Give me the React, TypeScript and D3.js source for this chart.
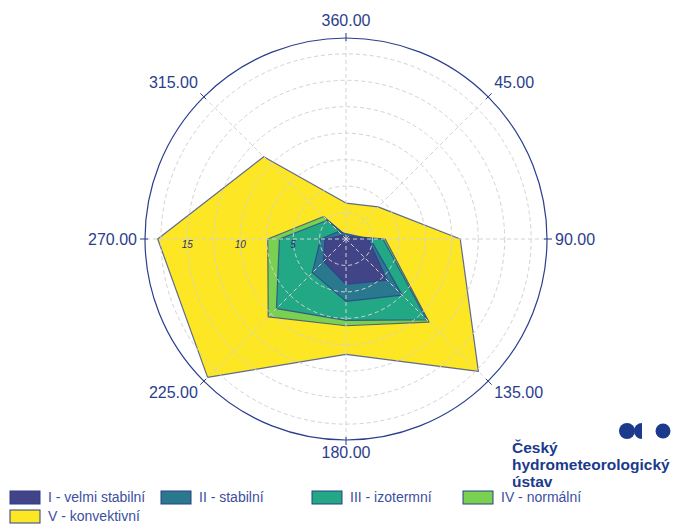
import * as React from 'react';
import { scaleLinear, lineRadial, curveLinearClosed, range } from 'd3';

// wind directions (deg) and their axis labels
const directions = [0, 45, 90, 135, 180, 225, 270, 315];
const dirLabels = ['360.00', '45.00', '90.00', '135.00', '180.00', '225.00', '270.00', '315.00'];

// frequency per stability class (%)
const classI = [0.2, 0.4, 2.1, 5.5, 4.3, 3.0, 2.0, 0.5];
const classII = [0.5, 0.6, 2.3, 7.5, 5.9, 4.5, 2.4, 1.0];
const classIII = [0.3, 0.3, 3.5, 10.8, 7.7, 9.3, 6.3, 2.5];
const classIV = [0.3, 0.4, 3.7, 11.1, 8.2, 10.4, 7.4, 3.0];
const classV = [3.4, 4.3, 10.8, 17.7, 10.9, 18.5, 17.8, 11.0];

const seriesNames = ['I - velmi stabilní', 'II - stabilní', 'III - izotermní', 'IV - normální', 'V - konvektivní'];
const seriesColors = ['#414487', '#2A788E', '#22A884', '#7AD151', '#FDE725'];
const radialTicks = [5, 10, 15];

const W = 675;
const H = 525;
const cx = 346;
const cy = 239;
const R = 201;
const axisColor = '#2B3E8C';

export default function App() {
  const r = scaleLinear().domain([0, 19]).range([0, R]);
  const rad = (deg: number) => (deg * Math.PI) / 180;

  const area = lineRadial<number>()
    .angle((d, i) => rad(directions[i]))
    .radius(d => r(d))
    .curve(curveLinearClosed);

  const all = [classI, classII, classIII, classIV, classV];
  // draw biggest first so class I ends on top
  const drawOrder = [4, 3, 2, 1, 0];

  const font = '"Liberation Sans", Arial, sans-serif';

  // label placement around the circle
  const labelPos = (deg: number) => {
    const px = cx + Math.sin(rad(deg)) * R;
    const py = cy - Math.cos(rad(deg)) * R;
    switch (deg) {
      case 0: return { x: px, y: py - 12, anchor: 'middle' };
      case 180: return { x: px, y: py + 18, anchor: 'middle' };
      case 90: return { x: px + 8, y: py + 6, anchor: 'start' };
      case 270: return { x: px - 8, y: py + 6, anchor: 'end' };
      case 45: return { x: px + 6, y: py - 9, anchor: 'start' };
      case 315: return { x: px - 6, y: py - 9, anchor: 'end' };
      case 135: return { x: px + 6, y: py + 17, anchor: 'start' };
      default: return { x: px - 6, y: py + 17, anchor: 'end' };
    }
  };

  const legendItems = [
    { x: 10, y: 491 },
    { x: 161, y: 491 },
    { x: 312, y: 491 },
    { x: 463, y: 491 },
    { x: 10, y: 510 },
  ];

  return (
    <svg width={W} height={H} style={{ position: 'absolute', left: 0, top: 0, background: '#fff' }}>
      <g transform={`translate(${cx},${cy})`}>
        {drawOrder.map(k => (
          <path
            key={k}
            d={area(all[k]) || ''}
            fill={seriesColors[k]}
            stroke="#2B3E8C"
            strokeOpacity={0.75}
            strokeWidth={1.2}
            strokeLinejoin="round"
          />
        ))}

        {/* grid on top */}
        {range(2.5, 18, 2.5).map(v => (
          <circle key={v} r={r(v)} fill="none" stroke="#d2d2d2" strokeDasharray="4,3" strokeWidth={1} />
        ))}
        {directions.map(d => (
          <line
            key={d}
            x1={0}
            y1={0}
            x2={Math.sin(rad(d)) * R}
            y2={-Math.cos(rad(d)) * R}
            stroke="#d2d2d2"
            strokeDasharray="4,3"
          />
        ))}
        <circle r={R} fill="none" stroke={axisColor} strokeWidth={1.2} />
        {directions.map(d => (
          <line
            key={'t' + d}
            x1={Math.sin(rad(d)) * (R - 3)}
            y1={-Math.cos(rad(d)) * (R - 3)}
            x2={Math.sin(rad(d)) * (R + 5)}
            y2={-Math.cos(rad(d)) * (R + 5)}
            stroke={axisColor}
            strokeWidth={1}
          />
        ))}
        {radialTicks.map(v => (
          <text
            key={v}
            x={-r(v)}
            y={9}
            textAnchor="middle"
            fontFamily={font}
            fontStyle="italic"
            fontSize={10}
            fill="#2a3070"
          >
            {v}
          </text>
        ))}
      </g>

      {directions.map((d, i) => {
        const p = labelPos(d);
        return (
          <text
            key={d}
            x={p.x}
            y={p.y}
            textAnchor={p.anchor}
            fontFamily={font}
            fontSize={16}
            fill={axisColor}
          >
            {dirLabels[i]}
          </text>
        );
      })}

      {/* logo */}
      <g fill="#1B3A8C">
        <circle cx={627} cy={431} r={8} />
        <path d="M 642 423 A 8 8 0 0 0 642 439 Z" />
        <circle cx={663} cy={431} r={7.5} />
        <text x={512} y={453} fontFamily={font} fontWeight="bold" fontSize={15.5}>Český</text>
        <text x={512} y={470} fontFamily={font} fontWeight="bold" fontSize={15.5}>hydrometeorologický</text>
        <text x={512} y={487} fontFamily={font} fontWeight="bold" fontSize={15.5}>ústav</text>
      </g>

      {/* legend */}
      {legendItems.map((p, i) => (
        <g key={i}>
          <rect x={p.x} y={p.y} width={30} height={13} fill={seriesColors[i]} stroke={axisColor} strokeWidth={1} />
          <text x={p.x + 38} y={p.y + 11} fontFamily={font} fontSize={14} fill="#3B4FA0">
            {seriesNames[i]}
          </text>
        </g>
      ))}
    </svg>
  );
}
